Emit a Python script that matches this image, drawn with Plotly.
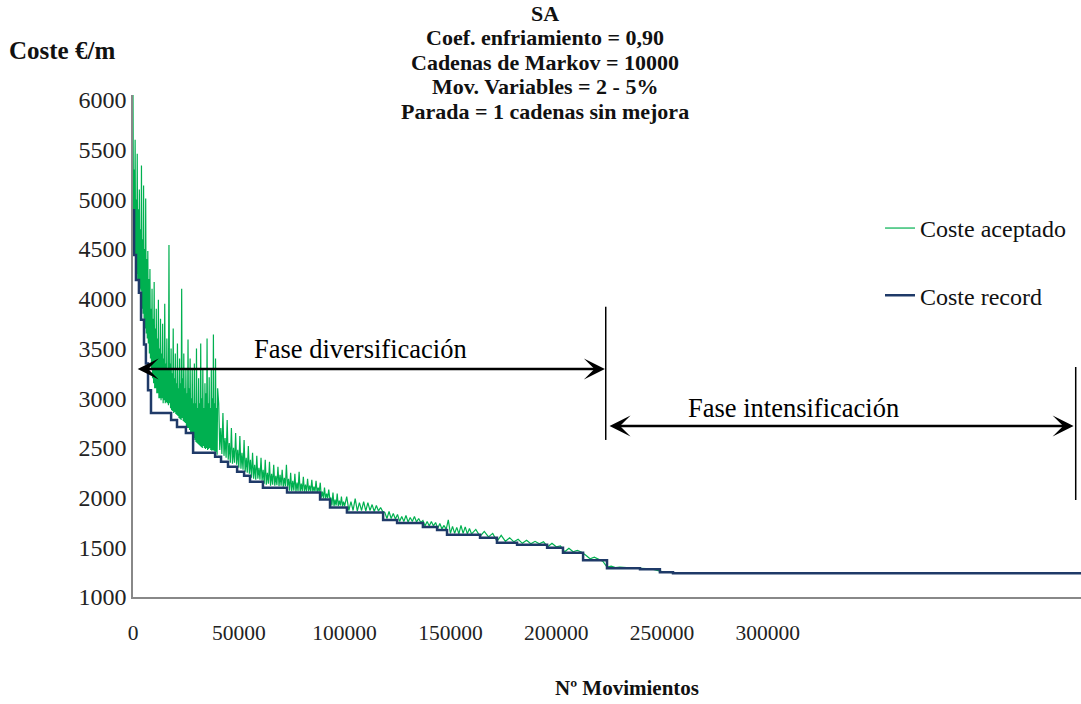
import plotly.graph_objects as go

# ---------------- data ----------------
# Coste record (step line), movements vs cost
record_x = [0, 500, 1400, 2800, 3800, 5200, 6100, 7100, 8500, 18000, 20800, 25000,
            28400, 38800, 41600, 44900, 49200, 52500, 55300, 61400, 72800, 88400,
            93100, 101100, 118200, 124800, 137000, 143700, 148400, 164000, 172000,
            181500, 195700, 203200, 212700, 224000, 239600, 249000, 255200, 448000]
record_y = [4890, 4440, 4190, 4060, 3790, 3540, 3350, 3080, 2850, 2780, 2710, 2650,
            2450, 2410, 2360, 2310, 2260, 2220, 2160, 2100, 2050, 1980,
            1900, 1850, 1775, 1745, 1705, 1675, 1625, 1595, 1545,
            1525, 1495, 1445, 1370, 1290, 1280, 1250, 1240, 1240]

# Coste aceptado, read every 250 moves (0-40000)
accepted_a_x = list(range(0, 40001, 250))
accepted_a_y = [6050, 4600, 5300, 4450, 5600, 4300, 5000, 4250, 5460, 4200,
                4900, 4150, 5100, 4100, 4700, 4080, 5340, 3900, 4600, 3850,
                5140, 3800, 4500, 3700, 5010, 3650, 4400, 3600, 4480, 3550,
                4200, 3450, 4300, 3400, 3900, 3300, 4100, 3200, 3800, 3150,
                4170, 3100, 3700, 3100, 3900, 3050, 3600, 3050, 3990, 3000,
                3500, 3000, 3800, 2980, 3450, 3000, 3750, 2950, 3400, 2980,
                3950, 2950, 3350, 2960, 3600, 2950, 3300, 2930, 4540, 2950,
                3350, 2900, 3500, 2880, 3250, 2870, 3700, 2850, 3200, 2860,
                3450, 2840, 3150, 2830, 3550, 2820, 3100, 2800, 3400, 2790,
                3150, 2780, 4100, 2800, 3200, 2770, 3450, 2760, 3100, 2750,
                3300, 2720, 3050, 2700, 3590, 2700, 3100, 2680, 3400, 2660,
                3000, 2650, 3300, 2640, 2950, 2600, 3350, 2580, 2950, 2560,
                3500, 2550, 2900, 2540, 3200, 2530, 2950, 2520, 3550, 2510,
                3000, 2500, 3300, 2520, 2900, 2500, 3150, 2490, 3050, 2500,
                3600, 2480, 2950, 2490, 3210, 2500, 2900, 2480, 3300, 2470,
                3000, 2480, 3640, 2470, 2950, 2460, 3400, 2460, 2900, 2430,
                3100]
# every 500 moves (40500-100000)
accepted_b_x = list(range(40500, 100001, 500))
accepted_b_y = [2950, 2480, 2700, 2440, 2850, 2420, 2600, 2400, 2780, 2380,
                2550, 2350, 2700, 2340, 2500, 2350, 2650, 2330, 2480, 2300,
                2620, 2290, 2450, 2280, 2580, 2260, 2400, 2250, 2520, 2240,
                2380, 2200, 2450, 2190, 2330, 2180, 2420, 2190, 2300, 2180,
                2400, 2170, 2280, 2140, 2380, 2130, 2250, 2140, 2360, 2120,
                2240, 2130, 2330, 2120, 2220, 2125, 2310, 2115, 2230, 2120,
                2280, 2110, 2200, 2115, 2330, 2110, 2190, 2070, 2250, 2065,
                2170, 2070, 2240, 2060, 2150, 2065, 2260, 2060, 2140, 2065,
                2210, 2060, 2130, 2060, 2190, 2065, 2120, 2060, 2180, 2058,
                2110, 2060, 2170, 2055, 2100, 2060, 2150, 2000, 2060, 1995,
                2100, 1990, 2040, 1995, 2080, 1990, 2000, 1920, 2050, 1915,
                1980, 1920, 2040, 1915, 1970, 1920, 2010, 1912, 1960, 1915]
# every 1000 moves (101000-160000)
accepted_c_x = list(range(101000, 160001, 1000))
accepted_c_y = [2010, 1870, 1960, 1870, 1990, 1865, 1950, 1870, 1960, 1865,
                1950, 1870, 1930, 1860, 1920, 1865, 1900, 1860, 1850, 1790,
                1860, 1790, 1840, 1785, 1830, 1760, 1810, 1760, 1820, 1755,
                1800, 1760, 1810, 1755, 1790, 1750, 1770, 1715, 1760, 1715,
                1760, 1715, 1750, 1690, 1740, 1685, 1720, 1680, 1775, 1640,
                1710, 1640, 1700, 1635, 1720, 1640, 1705, 1635, 1690, 1635]
# every 2000 moves (162000-230000)
accepted_d_x = list(range(162000, 230001, 2000))
accepted_d_y = [1680, 1610, 1660, 1605, 1640, 1560, 1620, 1560, 1595, 1555,
                1580, 1540, 1570, 1535, 1560, 1535, 1555, 1505, 1540, 1505,
                1515, 1455, 1490, 1455, 1470, 1450, 1420, 1385, 1400, 1380,
                1360, 1300, 1310, 1295, 1300]
accepted_e_x = [235000, 240000, 245000, 250000, 256000, 300000, 448000]
accepted_e_y = [1292, 1285, 1283, 1255, 1242, 1242, 1242]

accepted_x = accepted_a_x + accepted_b_x + accepted_c_x + accepted_d_x + accepted_e_x
accepted_y = accepted_a_y + accepted_b_y + accepted_c_y + accepted_d_y + accepted_e_y

x_ticks = [0, 50000, 100000, 150000, 200000, 250000, 300000]
y_ticks = [1000, 1500, 2000, 2500, 3000, 3500, 4000, 4500, 5000, 5500, 6000]

title_lines = ["SA", "Coef. enfriamiento = 0,90", "Cadenas de Markov = 10000",
               "Mov. Variables = 2 - 5%", "Parada = 1 cadenas sin mejora"]

# ---------------- figure ----------------
SERIF = "Liberation Serif"
GREEN = "#00B050"
BLUE = "#1F3A68"

fig = go.Figure()
fig.add_trace(go.Scatter(x=accepted_x, y=accepted_y, mode="lines",
                         name="Coste aceptado", legendgroup="a",
                         line=dict(color=GREEN, width=1.2)))
fig.add_trace(go.Scatter(x=record_x, y=record_y, mode="lines",
                         name="Coste record", legendgroup="b",
                         line=dict(color=BLUE, width=2.5, shape="hv")))

annotations = []
# title line centres (page px 13, 37.5, 62, 86.5, 111) in paper units
title_y = [1.1633, 1.1145, 1.0657, 1.0169, 0.9681]
for txt, yy in zip(title_lines, title_y):
    annotations.append(dict(text="<b>%s</b>" % txt, xref="paper", yref="paper",
                            x=0.4346, y=yy, xanchor="center", yanchor="middle",
                            showarrow=False, font=dict(family=SERIF, size=22, color="#111")))
annotations.append(dict(text="<b>Coste €/m</b>", xref="paper", yref="paper",
                        x=-0.0749, y=1.0896, xanchor="center", yanchor="middle",
                        showarrow=False, font=dict(family=SERIF, size=25, color="#111")))
annotations.append(dict(text="<b>Nº Movimientos</b>", xref="paper", yref="paper",
                        x=0.521, y=-0.181, xanchor="center", yanchor="middle",
                        showarrow=False, font=dict(family=SERIF, size=21, color="#111")))
annotations.append(dict(text="Fase diversificación", xref="x", yref="y",
                        x=107300, y=3495, xanchor="center", yanchor="middle",
                        showarrow=False, font=dict(family=SERIF, size=26.5, color="#000")))
annotations.append(dict(text="Fase intensificación", xref="x", yref="y",
                        x=311900, y=2901, xanchor="center", yanchor="middle",
                        showarrow=False, font=dict(family=SERIF, size=26.5, color="#000")))
# double-headed arrows
annotations.append(dict(text="", xref="x", yref="y", axref="x", ayref="y",
                        x=223000, y=3294, ax=1500, ay=3294, showarrow=True,
                        arrowside="end+start", arrowhead=3, startarrowhead=3,
                        arrowsize=1.4, startarrowsize=1.4, arrowwidth=2.5,
                        arrowcolor="#000"))
annotations.append(dict(text="", xref="x", yref="y", axref="x", ayref="y",
                        x=444500, y=2720, ax=224500, ay=2720, showarrow=True,
                        arrowside="end+start", arrowhead=3, startarrowhead=3,
                        arrowsize=1.4, startarrowsize=1.4, arrowwidth=2.5,
                        arrowcolor="#000"))

shapes = [
    dict(type="line", xref="x", yref="y", x0=223400, x1=223400, y0=2580, y1=3920,
         line=dict(color="#000", width=1.5)),
    dict(type="line", xref="x", yref="y", x0=445500, x1=445500, y0=1976, y1=3314,
         line=dict(color="#000", width=1.5)),
]

fig.update_layout(
    width=1081, height=704,
    margin=dict(l=133, r=0, t=95, b=107),
    paper_bgcolor="white", plot_bgcolor="white",
    showlegend=True,
    legend=dict(x=0.788, y=0.779, xanchor="left", yanchor="top",
                font=dict(family=SERIF, size=24, color="#111"),
                tracegroupgap=33, bgcolor="rgba(0,0,0,0)"),
    annotations=annotations, shapes=shapes,
    xaxis=dict(range=[0, 448000], tickvals=x_ticks, ticktext=[str(v) for v in x_ticks],
               showgrid=False, zeroline=False, showline=True, linecolor="#888",
               linewidth=1.5, ticks="", ticklabelstandoff=15,
               tickfont=dict(family=SERIF, size=21.5, color="#222")),
    yaxis=dict(range=[1000, 6050], tickvals=y_ticks, ticktext=[str(v) for v in y_ticks],
               showgrid=False, zeroline=False, showline=True, linecolor="#888",
               linewidth=1.5, ticks="", ticklabelstandoff=0,
               tickfont=dict(family=SERIF, size=24, color="#222")),
)

# remove the default page margin so the 1081x704 figure fills the window exactly
fig.write_html("out.html", config={"displayModeBar": False},
               post_script="document.body.style.margin='0';document.body.style.overflow='hidden';")
